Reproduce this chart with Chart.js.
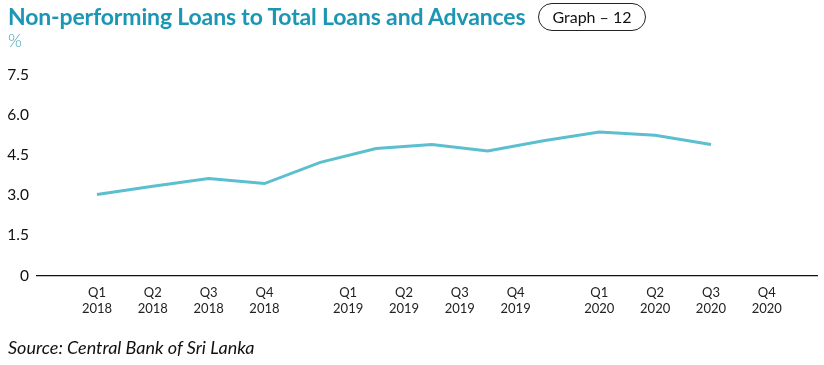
<!DOCTYPE html>
<html>
<head>
<meta charset="utf-8">
<script src="https://cdn.jsdelivr.net/npm/chart.js@4.4.1/dist/chart.umd.min.js"></script>
<style>
  body { margin: 0; background: #fff; }
  #wrap { position: relative; width: 824px; height: 365px; overflow: hidden; font-family: Lato, "Open Sans", sans-serif; }
  #titulo { position: absolute; left: 8px; top: 2px; font-size: 23px; font-weight: 700; color: #1b97b3; white-space: nowrap; letter-spacing: -0.15px; }
  #etiqueta { position: absolute; left: 538px; top: 3px; width: 106px; height: 26px; border: 1px solid #222; border-radius: 14px; font-size: 16px; line-height: 26px; text-align: center; color: #111; }
  #unidad { position: absolute; left: 8px; top: 29px; font-size: 18px; font-weight: 300; color: #4a9fb5; }
  #fuente { position: absolute; left: 8px; top: 336px; font-size: 18px; font-style: italic; color: #111; white-space: nowrap; }
  canvas { position: absolute; left: 0; top: 0; }
</style>
</head>
<body>
<div id="wrap">
  <canvas id="grafico" width="824" height="365"></canvas>
  <div id="titulo">Non-performing Loans to Total Loans and Advances</div>
  <div id="etiqueta">Graph – 12</div>
  <div id="unidad">%</div>
  <div id="fuente">Source: Central Bank of Sri Lanka</div>
</div>
<script>
// datos
const anios = ["2018", "2019", "2020"];
const trimestres = ["Q1", "Q2", "Q3", "Q4"];
const valoresNPL = [3.03, 3.34, 3.63, 3.44, 4.23, 4.75, 4.90, 4.66, 5.04, 5.37, 5.25, 4.90];
const ticksY = [0, 1.5, 3.0, 4.5, 6.0, 7.5];

// etiquetas del eje x: cada anio separado por un hueco
const etiquetasX = [];
const posicionesX = [];
anios.forEach((anio, i) => {
  trimestres.forEach((q, j) => {
    etiquetasX.push([q, anio]);
    posicionesX.push(i * 4.5 + j);
  });
});

const puntos = valoresNPL.map((v, i) => ({ x: i, y: v }));

const ctx = document.getElementById("grafico");
new Chart(ctx, {
  type: "line",
  data: {
    datasets: [
      {
        data: puntos,
        borderColor: "#5bbfcf",
        borderWidth: 3,
        pointRadius: 0,
        tension: 0,
        fill: false,
      },
    ],
  },
  options: {
    responsive: false,
    animation: false,
    layout: { padding: { top: 75, right: 7, left: 0, bottom: 0 } },
    plugins: { legend: { display: false }, tooltip: { enabled: false } },
    scales: {
      x: {
        type: "linear",
        min: -1.075,
        max: 12.9,
        afterBuildTicks: (scale) => {
          scale.ticks = posicionesX.map((v) => ({ value: v }));
        },
        afterFit: (scale) => {
          scale.height = 89.5;
        },
        grid: { display: false, drawTicks: false },
        border: { display: true, color: "#111", width: 1.2 },
        ticks: {
          autoSkip: false,
          maxRotation: 0,
          padding: 9,
          color: "#222",
          font: { family: "Lato, sans-serif", size: 13, lineHeight: 1.25 },
          callback: (value, index) => etiquetasX[index],
        },
      },
      y: {
        min: 0,
        max: 7.5,
        afterBuildTicks: (scale) => {
          scale.ticks = ticksY.map((v) => ({ value: v }));
        },
        afterFit: (scale) => {
          scale.width = 37;
        },
        grid: { display: false, drawTicks: false },
        border: { display: false },
        ticks: {
          padding: 8,
          color: "#111",
          font: { family: "Lato, sans-serif", size: 15.5 },
          callback: (value) => (value === 0 ? "0" : value.toFixed(1)),
        },
      },
    },
  },
});
</script>
</body>
</html>
